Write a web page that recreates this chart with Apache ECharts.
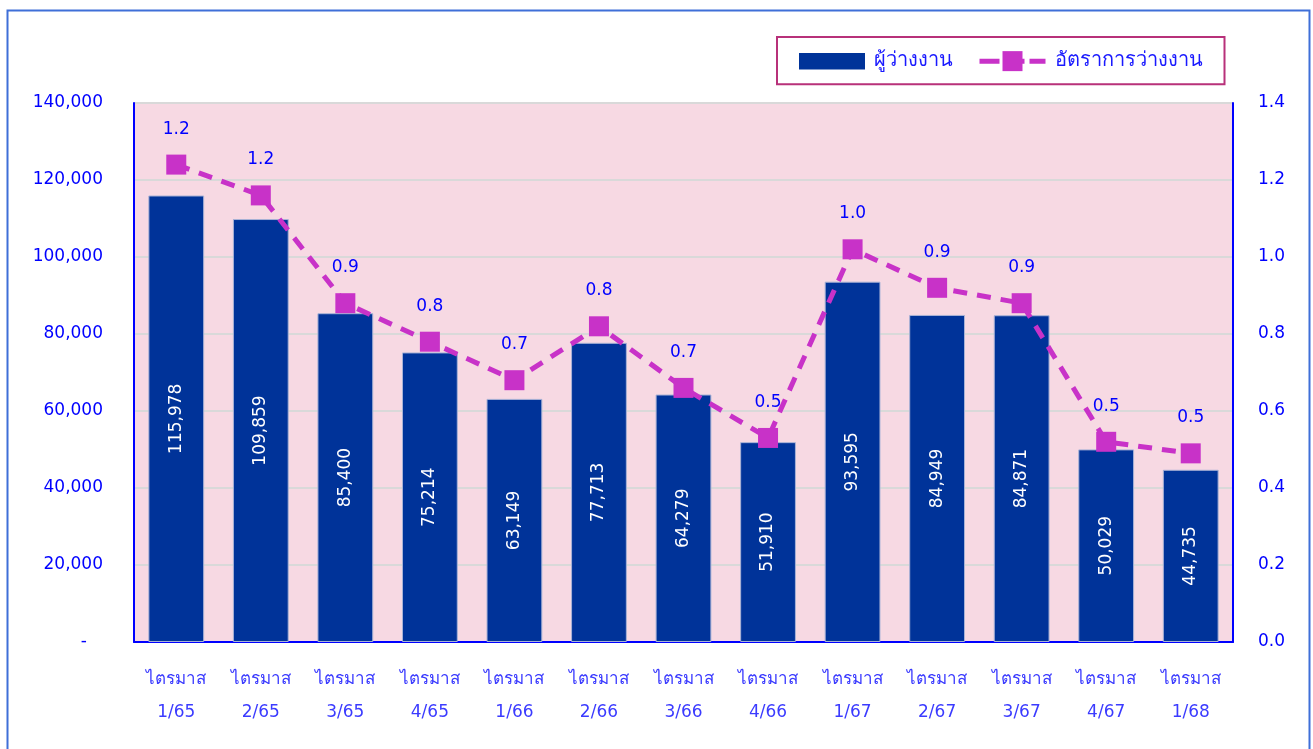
<!DOCTYPE html>
<html>
<head>
<meta charset="utf-8">
<script src="https://cdn.jsdelivr.net/npm/echarts@6/dist/echarts.min.js"></script>
<style>
html,body{margin:0;padding:0;background:#fff;}
#c{width:1313px;height:749px;}
</style>
</head>
<body>
<div id="c"></div>
<script>
const categories = ['ไตรมาส\n1/65','ไตรมาส\n2/65','ไตรมาส\n3/65','ไตรมาส\n4/65','ไตรมาส\n1/66','ไตรมาส\n2/66','ไตรมาส\n3/66','ไตรมาส\n4/66','ไตรมาส\n1/67','ไตรมาส\n2/67','ไตรมาส\n3/67','ไตรมาส\n4/67','ไตรมาส\n1/68'];
const unemployed = [115978,109859,85400,75214,63149,77713,64279,51910,93595,84949,84871,50029,44735];
const unemploymentRate = [1.24,1.16,0.88,0.78,0.68,0.82,0.66,0.53,1.02,0.92,0.88,0.52,0.49];
const seriesNames = ['ผู้ว่างงาน','อัตราการว่างงาน'];

const FONT = "'DejaVu Sans', Tahoma, 'Noto Sans', sans-serif";
const chart = echarts.init(document.getElementById('c'));
chart.setOption({
  animation:false,
  textStyle:{fontFamily:FONT},
  graphic:[{type:'rect',shape:{x:7.5,y:10.5,width:1302,height:800},style:{fill:'none',stroke:'#3f6fd8',lineWidth:2},silent:true,z:-1}],
  legend:{
    left:777, top:37, width:448,
    padding:[12,22,11,22],
    borderColor:'#b8317a', borderWidth:2,
    itemWidth:66, itemHeight:25, itemGap:24,
    textStyle:{color:'#1a1aff',fontSize:20,fontFamily:FONT,padding:[0,0,0,4]},
    data:[
      {name:seriesNames[0], icon:'path://M0,0L0,0ZM0,4L68,4L68,21L0,21ZM0,25L0,25Z', itemStyle:{borderWidth:0}},
      {name:seriesNames[1], lineStyle:{width:5,type:[20,5]}}
    ]
  },
  grid:{left:134,right:80,top:103,bottom:107,show:true,backgroundColor:'#f7d9e3',borderWidth:0},
  xAxis:{
    type:'category', data:categories,
    axisLine:{show:true,lineStyle:{color:'#0000ff',width:2}},
    axisTick:{show:false},
    axisLabel:{color:'#3b3bff',fontSize:17,lineHeight:33,margin:21,interval:0}
  },
  yAxis:[{
    type:'value', min:0, max:140000, interval:20000,
    axisLine:{show:true,lineStyle:{color:'#0000ff',width:2}},
    axisTick:{show:false},
    splitLine:{lineStyle:{color:'#d9d9d9',width:2}},
    axisLabel:{color:'#0000ff',fontSize:17,margin:31,
      formatter:v=>v===0?'-   ':v.toLocaleString('en-US')}
  },{
    type:'value', min:0, max:1.4, interval:0.2,
    axisLine:{show:true,lineStyle:{color:'#0000ff',width:2}},
    axisTick:{show:false},
    splitLine:{show:false},
    axisLabel:{color:'#0000ff',fontSize:17,margin:25,formatter:v=>v.toFixed(1)}
  }],
  series:[{
    name:seriesNames[0], type:'bar', data:unemployed, barWidth:'66%',
    itemStyle:{color:'#003399',borderColor:'#a9b3d6',borderWidth:1},
    label:{show:true,position:'inside',rotate:90,color:'#ffffff',fontSize:17,
      formatter:p=>p.value.toLocaleString('en-US')}
  },{
    name:seriesNames[1], type:'line', yAxisIndex:1, data:unemploymentRate,
    symbol:'rect', symbolSize:20,
    lineStyle:{color:'#c832c8',width:5,type:[14,10]},
    itemStyle:{color:'#c832c8'},
    label:{show:true,position:'top',distance:17,color:'#0000ff',fontSize:17,
      formatter:p=>p.value.toFixed(1)},
    z:5
  }]
});
</script>
</body>
</html>
